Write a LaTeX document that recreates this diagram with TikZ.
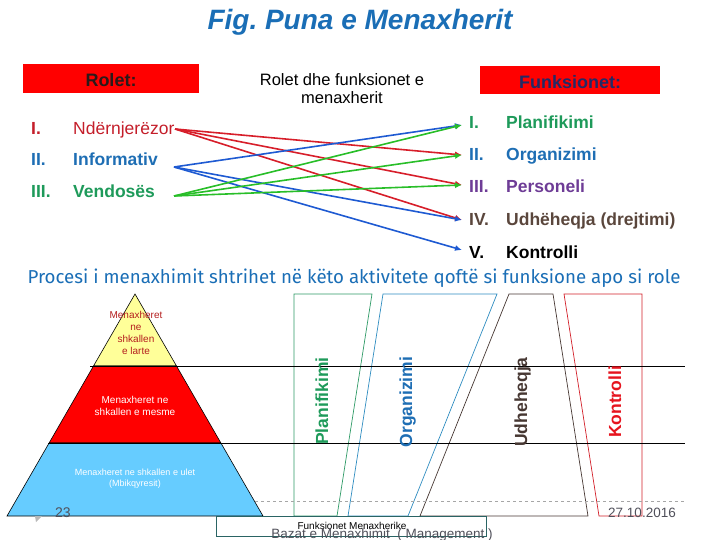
\documentclass[tikz,border=0pt]{standalone}
\usepackage{fontspec}
\setmainfont{Liberation Sans}
\newfontfamily\procfont{Fira Sans}
\usetikzlibrary{arrows.meta}
\definecolor{MgrTitle}{HTML}{1A6EB6}
\definecolor{MgrBox}{HTML}{FF0000}
\definecolor{MgrRoleTxt}{HTML}{2A1A1A}
\definecolor{MgrFuncTxt}{HTML}{232A66}
\definecolor{MgrRed}{HTML}{C41E2A}
\definecolor{MgrBlue}{HTML}{1E6EB4}
\definecolor{MgrGreen}{HTML}{1E9A5A}
\definecolor{MgrPurple}{HTML}{6E3C96}
\definecolor{MgrBrown}{HTML}{5A463C}
\definecolor{LinkRed}{HTML}{D71E2A}
\definecolor{LinkBlue}{HTML}{1E5AD2}
\definecolor{LinkGreen}{HTML}{28BE28}
\definecolor{LaneGreen}{HTML}{2E9A66}
\definecolor{LaneBlue}{HTML}{2E8CC0}
\definecolor{LaneBrown}{HTML}{463732}
\definecolor{LaneRed}{HTML}{D21E28}
\definecolor{LblRed}{HTML}{E6141E}
\definecolor{PyrYellow}{HTML}{FFFF99}
\definecolor{PyrRed}{HTML}{FF0000}
\definecolor{PyrBlue}{HTML}{66CCFF}
\definecolor{PyrTopTxt}{HTML}{B41E1E}
\definecolor{FootGray}{HTML}{50505A}
\definecolor{FootTeal}{HTML}{2A6464}

\begin{document}
\begin{tikzpicture}[x=1pt, y=-1pt,
    hdrbox/.style={fill=MgrBox, minimum width=176pt, minimum height=29pt, inner sep=0pt,
      text height=17pt, text depth=0pt, font=\fontsize{18}{20}\selectfont\bfseries},
    item/.style={anchor=base west, inner sep=0pt, font=\fontsize{17.5}{20}\selectfont\bfseries},
    link/.style={-{Latex[length=7pt,width=6pt]}, line width=1.6pt},
    lane/.style={line width=0.7pt},
    lanelabel/.style={rotate=90, anchor=base, inner sep=0pt, font=\fontsize{17.5}{20}\selectfont\bfseries},
    pyrtext/.style={align=center, inner sep=0pt},
    foot/.style={anchor=base, inner sep=0pt, text=FootGray}
  ]
    \useasboundingbox (0,0) rectangle (720,540);

    % title and headers
    \node[anchor=base, inner sep=0pt, text=MgrTitle, font=\fontsize{28}{30}\selectfont\bfseries\itshape] (title) at (360,30) {Fig.\ Puna e Menaxherit};
    \node[hdrbox, text=MgrRoleTxt] (roles) at (111,78.5) {Rolet:};
    \node[hdrbox, minimum width=180pt, minimum height=28pt, text=MgrFuncTxt] (funcs) at (570,80) {Funksionet:};
    \node[anchor=base, inner sep=0pt, font=\fontsize{16.5}{18}\selectfont] (mid1) at (342,86) {Rolet dhe funksionet e};
    \node[anchor=base, inner sep=0pt, font=\fontsize{16.5}{18}\selectfont] (mid2) at (342,104) {menaxherit};

    % roles
    \node[item, text=MgrRed] (rI) at (31,134.5) {I.};
    \node[item, text=MgrRed, font=\fontsize{17.5}{20}\selectfont] (ndr) at (73,134.5) {Ndërnjerëzor};
    \node[item, text=MgrBlue] (rII) at (31,165.5) {II.};
    \node[item, text=MgrBlue] (inf) at (73,165.5) {Informativ};
    \node[item, text=MgrGreen] (rIII) at (31,198) {III.};
    \node[item, text=MgrGreen] (ven) at (73,198) {Vendosës};

    % functions
    \node[item, text=MgrGreen] (fI) at (469,128.5) {I.};
    \node[item, text=MgrGreen] (pla) at (506,128.5) {Planifikimi};
    \node[item, text=MgrBlue] (fII) at (469,160.5) {II.};
    \node[item, text=MgrBlue] (org) at (506,160.5) {Organizimi};
    \node[item, text=MgrPurple] (fIII) at (469,192.5) {III.};
    \node[item, text=MgrPurple] (per) at (506,192.5) {Personeli};
    \node[item, text=MgrBrown] (fIV) at (469,225.5) {IV.};
    \node[item, text=MgrBrown] (udh) at (506,225.5) {Udhëheqja (drejtimi)};
    \node[item] (fV) at (469,258.5) {V.};
    \node[item] (kon) at (506,258.5) {Kontrolli};

    \coordinate (sNdr) at (175,129);
    \coordinate (sInf) at (174,167);
    \coordinate (sVen) at (174,196);
    \coordinate (tI) at (462,125);
    \coordinate (tII) at (462,155);
    \coordinate (tIII) at (462,185);
    \coordinate (tIV) at (462,220);
    \coordinate (tV) at (462,250);

    \draw[link, LinkRed] (sNdr) -- (tII);
    \draw[link, LinkRed] (sNdr) -- (tIII);
    \draw[link, LinkRed] (sNdr) -- (tIV);
    \draw[link, LinkBlue] (sInf) -- (tI);
    \draw[link, LinkBlue] (sInf) -- (tIV);
    \draw[link, LinkBlue] (sInf) -- (tV);
    \draw[link, LinkGreen] (sVen) -- (tI);
    \draw[link, LinkGreen] (sVen) -- (tII);
    \draw[link, LinkGreen] (sVen) -- (tIII);

    \node[anchor=base, inner sep=0pt, text=MgrTitle, font=\procfont\fontsize{18.7}{21}\selectfont] (proc) at (354,283)
      {Procesi i menaxhimit shtrihet në këto aktivitete qoftë si funksione apo si role};

    % lanes
    \draw[lane, LaneGreen] (294,294) -- (372,294) -- (337,516) -- (294,516) -- cycle;
    \draw[lane, LaneBlue] (383,294) -- (497,294) -- (408,516) -- (348,516) -- cycle;
    \draw[lane, LaneBrown] (509,294) -- (553,294) -- (588,516) -- (420,516) -- cycle;
    \draw[lane, LaneRed] (564,294) -- (642,294) -- (642,516) -- (599,516) -- cycle;

    % pyramid
    \draw[fill=PyrYellow, line width=0.6pt] (135,294) -- (176.5,366) -- (93.5,366) -- cycle;
    \draw[fill=PyrRed, line width=0.6pt] (93.5,366) -- (176.5,366) -- (220.9,443) -- (49.1,443) -- cycle;
    \draw[fill=PyrBlue, line width=0.6pt] (49.1,443) -- (220.9,443) -- (263,516) -- (7,516) -- cycle;

    \draw[line width=0.8pt] (90,366) -- (685,366);
    \draw[line width=0.8pt] (48,443) -- (685,443);
    \draw[gray!70, dashed, line width=0.6pt] (255,501) -- (685,501);

    \node[pyrtext, text=PyrTopTxt, font=\fontsize{10}{12}\selectfont] (top) at (136,333) {Menaxheret\\ne\\shkallen\\e larte};
    \node[pyrtext, text=white, font=\fontsize{10}{12}\selectfont] (midlvl) at (135,406) {Menaxheret ne\\shkallen e mesme};
    \node[pyrtext, text=white, font=\fontsize{9}{11}\selectfont] (low) at (135,479) {Menaxheret ne shkallen e ulet\\(Mbikqyresit)};

    \node[lanelabel, text=MgrGreen] (lPla) at (328,401) {Planifikimi};
    \node[lanelabel, text=MgrBlue] (lOrg) at (412,402) {Organizimi};
    \node[lanelabel, text=LaneBrown] (lUdh) at (527,402) {Udheheqja};
    \node[lanelabel, text=LblRed] (lKon) at (621,402) {Kontrolli};

    % footer
    \draw[FootTeal, line width=0.7pt] (216,516) rectangle (486,536);
    \node[anchor=base, inner sep=0pt, font=\fontsize{10}{12}\selectfont] (fm) at (352,529.5) {Funksionet Menaxherike};
    \node[foot, font=\fontsize{13.5}{15}\selectfont] (baz) at (382,538.5) {Bazat e Menaxhimit\ \ ( Management )};
    \node[foot, font=\fontsize{14}{16}\selectfont] (pg) at (63,517) {23};
    \node[foot, font=\fontsize{13.5}{15}\selectfont] (dt) at (642,517) {27.10.2016};
    \fill[gray!55] (35,516) -- (42,516) -- (36,522) -- cycle;
\end{tikzpicture}
\end{document}
